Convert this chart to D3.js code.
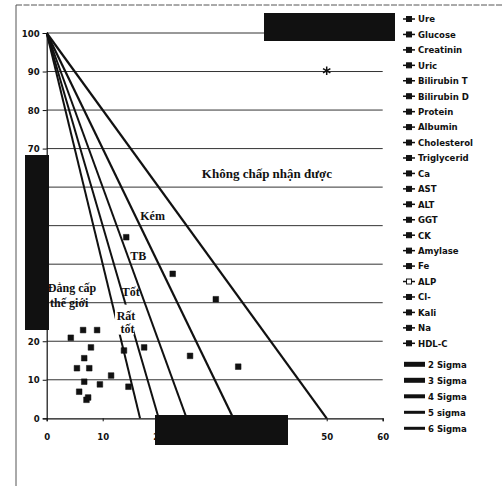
<!DOCTYPE html>
<html>
<head>
<meta charset="utf-8">
<script src="https://cdn.jsdelivr.net/npm/d3@7"></script>
<style>
  body { margin: 0; background: #fff; }
  svg { display: block; }
</style>
</head>
<body>
<svg id="chart" width="502" height="486"></svg>
<script>
// Data: normalized method decision chart (x = CV %, y = bias %)
const analytes = ["Ure", "Glucose", "Creatinin", "Uric", "Bilirubin T", "Bilirubin D", "Protein",
  "Albumin", "Cholesterol", "Triglycerid", "Ca", "AST", "ALT", "GGT", "CK", "Amylase", "Fe",
  "ALP", "Cl-", "Kali", "Na", "HDL-C"];
const cvValues =   [4.3, 6.5, 9.0, 7.9, 6.7, 5.4, 7.6, 6.7, 9.5, 11.5, 5.8, 7.1, 7.4, 13.8, 14.6, 17.4, 25.6, 50, 30.2, 34.2, 14.2, 22.5];
const biasValues = [20.9, 22.9, 22.9, 18.4, 15.6, 13.0, 13.0, 9.5, 8.8, 11.1, 6.9, 4.8, 5.4, 17.6, 8.2, 18.4, 16.2, 90.2, 30.9, 13.4, 47.0, 37.5];
const sigmaLabels = ["2 Sigma", "3 Sigma", "4 Sigma", "5 sigma", "6 Sigma"];
const sigmaLevels = [2, 3, 4, 5, 6];
const xTicks = [0, 10, 20, 30, 40, 50, 60];
const yTicks = [0, 10, 20, 30, 40, 50, 60, 70, 80, 90, 100];
// zone labels (text, x, y in data units, baseline)
const zoneText = ["Không chấp nhận được", "Kém", "TB", "Tốt", "Rất", "tốt", "Đẳng cấp", "thế giới"];
const zoneX = [27.7, 16.7, 14.9, 13.4, 12.5, 13.2, 0.2, 0.6];
const zoneY = [62.4, 51.5, 41.1, 31.8, 25.5, 22.2, 32.8, 28.9];

const svg = d3.select("#chart");
const INK = "#111";
const x = d3.scaleLinear().domain([0, 60]).range([46.7, 382.7]);
const y = d3.scaleLinear().domain([0, 100]).range([418.3, 33]);

// outer frame (cropped figure border)
svg.append("line").attr("x1", 16).attr("y1", 5).attr("x2", 502).attr("y2", 5)
  .attr("stroke", "#555").attr("stroke-width", 1).attr("stroke-dasharray", "6,1.5");
svg.append("line").attr("x1", 16).attr("y1", 5).attr("x2", 16).attr("y2", 486)
  .attr("stroke", "#555").attr("stroke-width", 1);

// gridlines
svg.append("g").selectAll("line").data(yTicks.slice(1)).join("line")
  .attr("x1", x(0)).attr("x2", x(60))
  .attr("y1", d => y(d)).attr("y2", d => y(d))
  .attr("stroke", "#333").attr("stroke-width", 1);

// axes
const yAxis = svg.append("g").attr("transform", `translate(${x(0)},0)`)
  .call(d3.axisLeft(y).tickValues(yTicks).tickSize(4).tickPadding(3).tickFormat(d3.format("d")));
const xAxis = svg.append("g").attr("transform", `translate(0,${y(0)})`)
  .call(d3.axisBottom(x).tickValues(xTicks).tickSize(3).tickPadding(12).tickFormat(d3.format("d")));
[xAxis, yAxis].forEach(g => {
  g.select(".domain").attr("stroke", INK).attr("stroke-width", 1.2);
  g.selectAll(".tick line").attr("stroke", INK);
  g.selectAll("text").attr("fill", INK).attr("font-family", "Liberation Sans Narrow, DejaVu Sans Condensed, sans-serif")
    .attr("font-size", 9.5).attr("font-weight", "bold");
});

// sigma lines: bias + sigma * CV = 100
const lineWidths = [2.2, 2.2, 2, 2, 2];
svg.append("g").selectAll("line").data(sigmaLevels).join("line")
  .attr("x1", x(0)).attr("y1", y(100))
  .attr("x2", d => x(100 / d)).attr("y2", y(0))
  .attr("stroke", INK).attr("stroke-width", (d, i) => lineWidths[i]);

// zone labels
const zoneFont = "Liberation Serif, DejaVu Serif, serif";
// white box behind "Rất tốt"
svg.append("rect").attr("x", x(12.2)).attr("y", y(29.5)).attr("width", 19).attr("height", 30)
  .attr("fill", "#fff");
svg.append("g").selectAll("text").data(zoneText).join("text")
  .attr("x", (d, i) => x(zoneX[i])).attr("y", (d, i) => y(zoneY[i]))
  .attr("font-family", zoneFont).attr("font-weight", "bold")
  .attr("font-size", (d, i) => i === 0 ? 13 : 12)
  .attr("fill", INK).text(d => d);

// data points
const pts = analytes.map((a, i) => ({ name: a, cv: cvValues[i], bias: biasValues[i] }));
svg.append("g").selectAll("path").data(pts).join("path")
  .attr("transform", d => `translate(${x(d.cv)},${y(d.bias)})`)
  .attr("d", d => d3.symbol(d.name === "ALP" ? d3.symbolAsterisk : d3.symbolSquare, d.name === "ALP" ? 50 : 32)())
  .attr("fill", INK).attr("stroke", INK).attr("stroke-width", d => d.name === "ALP" ? 1.5 : 0.5);

// legend
const legFont = "Liberation Sans Narrow, DejaVu Sans Condensed, sans-serif";
const leg = svg.append("g");
const legY = d3.scaleLinear().domain([0, analytes.length - 1]).range([19, 343.3]);
analytes.forEach((a, i) => {
  const g = leg.append("g").attr("transform", `translate(0,${legY(i)})`);
  g.append("line").attr("x1", 403).attr("x2", 415).attr("y1", 0).attr("y2", 0)
    .attr("stroke", INK).attr("stroke-width", 1.5);
  g.append("rect").attr("x", 406.5).attr("y", -2.5).attr("width", 5).attr("height", 5)
    .attr("fill", a === "ALP" ? "#fff" : INK).attr("stroke", INK).attr("stroke-width", 1);
  g.append("text").attr("x", 418).attr("y", 0).attr("dy", "0.35em")
    .attr("font-family", legFont).attr("font-size", 9.5).attr("font-weight", "bold")
    .attr("fill", INK).text(a);
});
const sigY = d3.scaleLinear().domain([0, sigmaLabels.length - 1]).range([364.3, 428.3]);
const swatchWidths = [5, 5, 4, 3, 3];
sigmaLabels.forEach((s, i) => {
  const g = leg.append("g").attr("transform", `translate(0,${sigY(i)})`);
  g.append("line").attr("x1", 404).attr("x2", 425).attr("y1", 0).attr("y2", 0)
    .attr("stroke", INK).attr("stroke-width", swatchWidths[i]);
  g.append("text").attr("x", 428).attr("y", 0).attr("dy", "0.35em")
    .attr("font-family", legFont).attr("font-size", 9.5).attr("font-weight", "bold")
    .attr("fill", INK).text(s);
});

// redaction blocks present in the source image
svg.append("rect").attr("x", 264).attr("y", 13).attr("width", 131).attr("height", 28).attr("fill", INK);
svg.append("rect").attr("x", 25).attr("y", 155).attr("width", 24).attr("height", 175).attr("fill", INK);
svg.append("rect").attr("x", 155).attr("y", 415).attr("width", 133).attr("height", 30).attr("fill", INK);
</script>
</body>
</html>
